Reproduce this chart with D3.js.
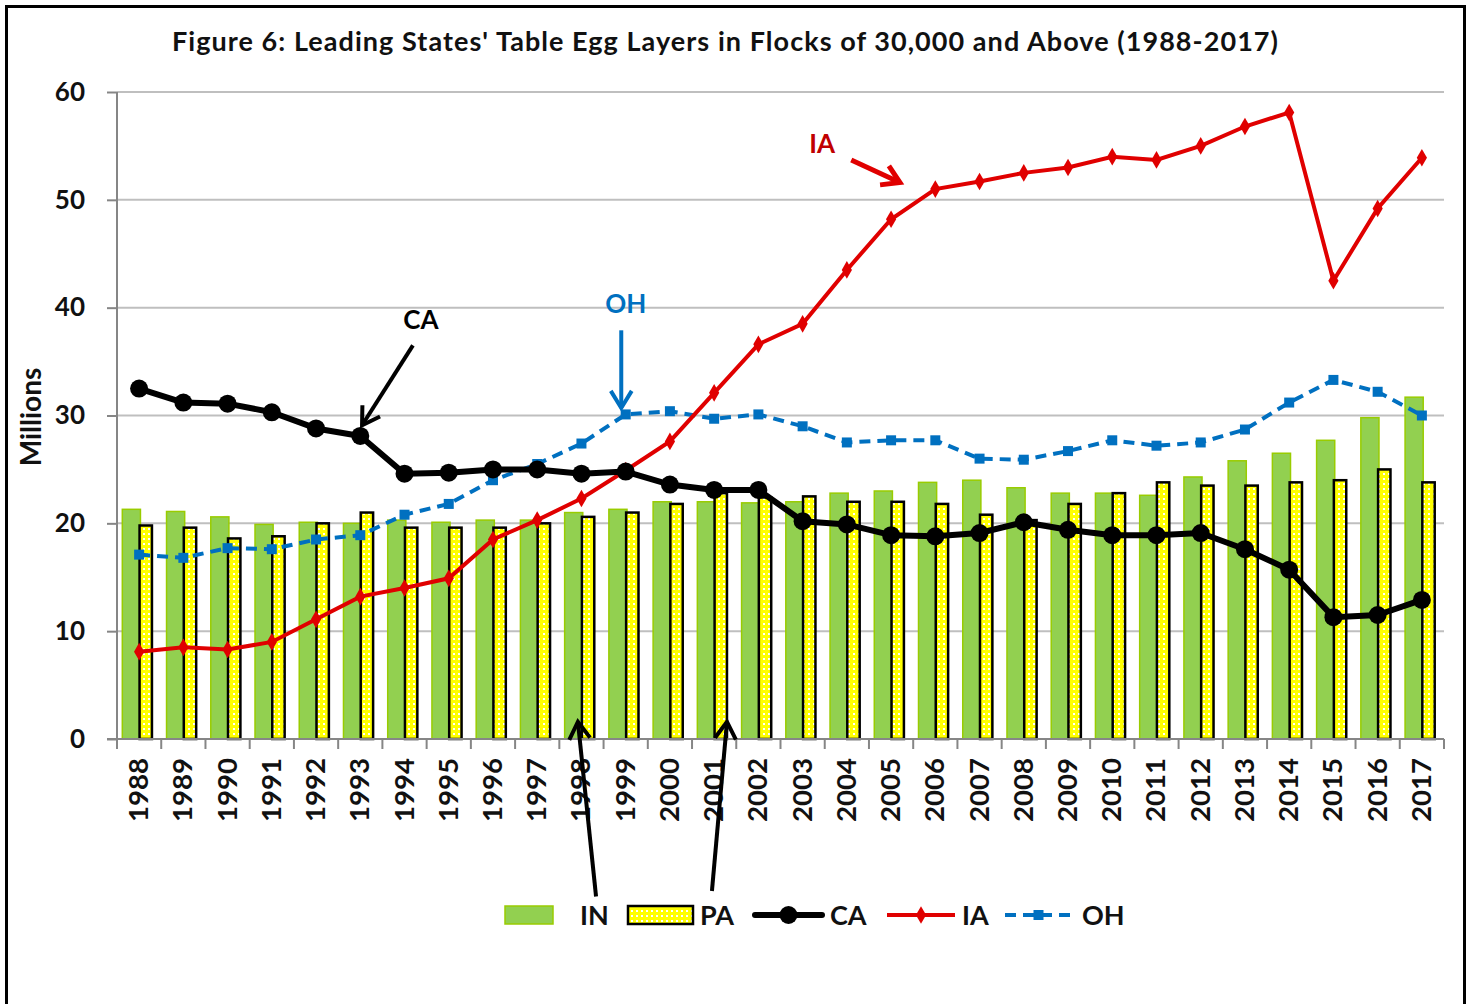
<!DOCTYPE html>
<html>
<head>
<meta charset="utf-8">
<script src="https://cdn.jsdelivr.net/npm/d3@7"></script>
<style>
  body { margin: 0; background: #fff; }
  svg text { font-family: Lato, "Open Sans", sans-serif; font-weight: bold; }
</style>
</head>
<body>
<div id="chart"></div>
<script>
var years = d3.range(1988, 2018);
var yTicks = [0, 10, 20, 30, 40, 50, 60];

var IN = [21.3, 21.1, 20.6, 19.9, 20.1, 20.0, 20.3, 20.1, 20.3, 20.3,
          21.0, 21.3, 22.0, 22.0, 21.9, 22.0, 22.8, 23.0, 23.8, 24.0,
          23.3, 22.8, 22.8, 22.6, 24.3, 25.8, 26.5, 27.7, 29.8, 31.7];
var PA = [19.8, 19.6, 18.6, 18.8, 20.0, 21.0, 19.6, 19.6, 19.6, 20.0,
          20.6, 21.0, 21.8, 22.8, 22.4, 22.5, 22.0, 22.0, 21.8, 20.8,
          20.3, 21.8, 22.8, 23.8, 23.5, 23.5, 23.8, 24.0, 25.0, 23.8];
var CA = [32.5, 31.2, 31.1, 30.3, 28.8, 28.1, 24.6, 24.7, 25.0, 25.0,
          24.6, 24.8, 23.6, 23.1, 23.1, 20.2, 19.9, 18.9, 18.8, 19.1,
          20.1, 19.4, 18.9, 18.9, 19.1, 17.6, 15.7, 11.3, 11.5, 12.9];
var IA = [8.1, 8.5, 8.3, 9.0, 11.1, 13.2, 14.0, 14.9, 18.5, 20.3,
          22.3, 24.9, 27.6, 32.1, 36.6, 38.5, 43.5, 48.2, 51.0, 51.7,
          52.5, 53.0, 54.0, 53.7, 55.0, 56.8, 58.1, 42.5, 49.2, 53.9];
var OH = [17.1, 16.8, 17.7, 17.6, 18.5, 18.9, 20.8, 21.8, 24.0, 25.5,
          27.4, 30.1, 30.4, 29.7, 30.1, 29.0, 27.5, 27.7, 27.7, 26.0,
          25.9, 26.7, 27.7, 27.2, 27.5, 28.7, 31.2, 33.3, 32.2, 30.0];

// annotations in data units: year index (fractional) and value
var notes = [
  { label: "CA", color: "#000", tx: 6.37, tv: 38.0, from: [6.19, 36.5], to: [5.04, 29.1], w: 4 },
  { label: "OH", color: "#0070c0", tx: 11.0, tv: 39.5, from: [10.9, 37.9], to: [10.9, 30.7], w: 4 },
  { label: "IA", color: "#e00000", tx: 15.44, tv: 54.3, from: [16.1, 53.7], to: [17.2, 51.6], w: 5 },
  { label: "", color: "#000", from: [10.33, -14.6], to: [9.92, 1.6], w: 4 },
  { label: "", color: "#000", from: [12.95, -14.1], to: [13.29, 1.6], w: 4 }
];

var W = 1473, H = 1004;
var margin = { top: 92, right: 29, bottom: 265, left: 117 };
var width = W - margin.left - margin.right,
    height = H - margin.top - margin.bottom;

var svg = d3.select("#chart").append("svg")
    .attr("width", W).attr("height", H);

var defs = svg.append("defs");
var pat = defs.append("pattern")
    .attr("id", "dots").attr("patternUnits", "userSpaceOnUse")
    .attr("width", 5).attr("height", 5);
pat.append("rect").attr("width", 5).attr("height", 5).attr("fill", "#ffff00");
pat.append("rect").attr("x", 1).attr("y", 1).attr("width", 2).attr("height", 2).attr("fill", "#ffffff");

// frame
svg.append("path")
    .attr("d", "M6.5," + H + "V6.5H1464.5V" + H)
    .attr("fill", "none").attr("stroke", "#000").attr("stroke-width", 3);

svg.append("text")
    .attr("x", 725).attr("y", 51)
    .attr("text-anchor", "middle")
    .attr("font-size", 27)
    .attr("textLength", 1106).attr("lengthAdjust", "spacing")
    .attr("fill", "#111")
    .text("Figure 6:  Leading States' Table Egg Layers in Flocks of 30,000 and  Above (1988-2017)");

var g = svg.append("g").attr("transform", "translate(" + margin.left + "," + margin.top + ")");

var x = d3.scaleBand().domain(years).range([0, width]);
var xi = d3.scaleLinear().domain([0, years.length]).range([0, width]);
var y = d3.scaleLinear().domain([0, 60]).range([height, 0]);

function xc(i) { return xi(i + 0.5); }

// grid
g.selectAll("line.grid").data(yTicks.slice(1)).enter().append("line")
    .attr("class", "grid")
    .attr("x1", 0).attr("x2", width)
    .attr("y1", function (d) { return y(d); }).attr("y2", function (d) { return y(d); })
    .attr("stroke", "#bfbfbf").attr("stroke-width", 2);

// bars
var bw = x.bandwidth();
g.selectAll("rect.in").data(IN).enter().append("rect")
    .attr("class", "in")
    .attr("x", function (d, i) { return x(years[i]) + bw * 0.12; })
    .attr("width", bw * 0.41)
    .attr("y", function (d) { return y(d); })
    .attr("height", function (d) { return y(0) - y(d); })
    .attr("fill", "#92d050").attr("stroke", "#99cc00").attr("stroke-width", 1.5);

g.selectAll("rect.pa").data(PA).enter().append("rect")
    .attr("class", "pa")
    .attr("x", function (d, i) { return x(years[i]) + bw * 0.51; })
    .attr("width", bw * 0.28)
    .attr("y", function (d) { return y(d); })
    .attr("height", function (d) { return y(0) - y(d); })
    .attr("fill", "url(#dots)").attr("stroke", "#000").attr("stroke-width", 2.5);

// axes
var yAxis = g.append("g")
    .call(d3.axisLeft(y).tickValues(yTicks).tickSize(10).tickPadding(22));
yAxis.select(".domain").attr("stroke", "#868686").attr("stroke-width", 2).attr("d", "M0," + height + "V0");
yAxis.selectAll(".tick line").attr("stroke", "#868686").attr("stroke-width", 2);
yAxis.selectAll(".tick text").attr("font-size", 26).attr("fill", "#111")
    .attr("font-family", "Lato, sans-serif").attr("font-weight", "bold");

var xAxis = g.append("g").attr("transform", "translate(0," + height + ")");
xAxis.append("line").attr("x1", -10).attr("x2", width)
    .attr("stroke", "#868686").attr("stroke-width", 2);
xAxis.selectAll("line.tk").data(d3.range(years.length + 1)).enter().append("line")
    .attr("class", "tk")
    .attr("x1", function (d) { return xi(d); }).attr("x2", function (d) { return xi(d); })
    .attr("y1", 0).attr("y2", 10)
    .attr("stroke", "#868686").attr("stroke-width", 2);
xAxis.selectAll("text").data(years).enter().append("text")
    .attr("transform", function (d, i) { return "translate(" + (xc(i) + 9) + ",19) rotate(-90)"; })
    .attr("text-anchor", "end")
    .attr("font-family", "'Liberation Sans', Arial, sans-serif")
    .attr("font-size", 26)
    .attr("textLength", 64).attr("lengthAdjust", "spacingAndGlyphs")
    .attr("fill", "#111")
    .text(function (d) { return d; });

svg.append("text")
    .attr("transform", "translate(41,417) rotate(-90)")
    .attr("text-anchor", "middle")
    .attr("font-size", 28).attr("fill", "#111")
    .text("Millions");

// lines
var line = d3.line().x(function (d, i) { return xc(i); }).y(function (d) { return y(d); });

g.append("path").datum(OH).attr("d", line)
    .attr("fill", "none").attr("stroke", "#0070c0").attr("stroke-width", 4)
    .attr("stroke-dasharray", "11,7");
g.selectAll("rect.oh").data(OH).enter().append("rect")
    .attr("class", "oh")
    .attr("x", function (d, i) { return xc(i) - 5; }).attr("y", function (d) { return y(d) - 5; })
    .attr("width", 10).attr("height", 10).attr("fill", "#0070c0");

g.append("path").datum(IA).attr("d", line)
    .attr("fill", "none").attr("stroke", "#e00000").attr("stroke-width", 4);
g.selectAll("path.ia").data(IA).enter().append("path")
    .attr("class", "ia")
    .attr("transform", function (d, i) { return "translate(" + xc(i) + "," + y(d) + ")"; })
    .attr("d", d3.symbol().type(d3.symbolDiamond).size(90))
    .attr("fill", "#e00000");

g.append("path").datum(CA).attr("d", line)
    .attr("fill", "none").attr("stroke", "#000").attr("stroke-width", 6)
    .attr("stroke-linejoin", "round");
g.selectAll("circle.ca").data(CA).enter().append("circle")
    .attr("class", "ca")
    .attr("cx", function (d, i) { return xc(i); }).attr("cy", function (d) { return y(d); })
    .attr("r", 9).attr("fill", "#000");

// annotations
function ax(t) { return xi(t + 0.5); }
notes.forEach(function (n) {
  var x1 = ax(n.from[0]), y1 = y(n.from[1]), x2 = ax(n.to[0]), y2 = y(n.to[1]);
  var ang = Math.atan2(y2 - y1, x2 - x1), len = 20, spread = 0.55;
  g.append("line").attr("x1", x1).attr("y1", y1).attr("x2", x2).attr("y2", y2)
      .attr("stroke", n.color).attr("stroke-width", n.w);
  var pts = [
    [x2 - len * Math.cos(ang - spread), y2 - len * Math.sin(ang - spread)],
    [x2, y2],
    [x2 - len * Math.cos(ang + spread), y2 - len * Math.sin(ang + spread)]
  ];
  g.append("path").attr("d", d3.line()(pts))
      .attr("fill", "none").attr("stroke", n.color).attr("stroke-width", n.w)
      .attr("stroke-linejoin", "miter");
  if (n.label) {
    g.append("text").attr("x", ax(n.tx)).attr("y", y(n.tv))
        .attr("text-anchor", "middle").attr("font-size", 26)
        .attr("fill", n.color === "#e00000" ? "#c00000" : n.color)
        .text(n.label);
  }
});

// legend
var legend = svg.append("g").attr("transform", "translate(0,914)");
var items = [
  { key: "IN", type: "bar", x: 505, w: 48, tx: 580 },
  { key: "PA", type: "pat", x: 628, w: 65, tx: 700 },
  { key: "CA", type: "ca", x: 755, w: 67, tx: 830 },
  { key: "IA", type: "ia", x: 887, w: 68, tx: 962 },
  { key: "OH", type: "oh", x: 1005, w: 67, tx: 1082 }
];
items.forEach(function (it) {
  var cx = it.x + it.w / 2;
  if (it.type === "bar") {
    legend.append("rect").attr("x", it.x).attr("y", -8).attr("width", it.w).attr("height", 18)
        .attr("fill", "#92d050").attr("stroke", "#99cc00").attr("stroke-width", 1.5);
  } else if (it.type === "pat") {
    legend.append("rect").attr("x", it.x).attr("y", -8).attr("width", it.w).attr("height", 18)
        .attr("fill", "url(#dots)").attr("stroke", "#000").attr("stroke-width", 2.5);
  } else if (it.type === "ca") {
    legend.append("line").attr("x1", it.x).attr("x2", it.x + it.w).attr("y1", 1).attr("y2", 1)
        .attr("stroke", "#000").attr("stroke-width", 6).attr("stroke-linecap", "round");
    legend.append("circle").attr("cx", cx).attr("cy", 1).attr("r", 9).attr("fill", "#000");
  } else if (it.type === "ia") {
    legend.append("line").attr("x1", it.x).attr("x2", it.x + it.w).attr("y1", 1).attr("y2", 1)
        .attr("stroke", "#e00000").attr("stroke-width", 4);
    legend.append("path").attr("transform", "translate(" + cx + ",1)")
        .attr("d", d3.symbol().type(d3.symbolDiamond).size(90)).attr("fill", "#e00000");
  } else {
    legend.append("line").attr("x1", it.x).attr("x2", it.x + it.w).attr("y1", 1).attr("y2", 1)
        .attr("stroke", "#0070c0").attr("stroke-width", 4).attr("stroke-dasharray", "11,7");
    legend.append("rect").attr("x", cx - 5).attr("y", -4).attr("width", 10).attr("height", 10)
        .attr("fill", "#0070c0");
  }
  legend.append("text").attr("x", it.tx).attr("y", 11).attr("font-size", 27)
      .attr("fill", "#111").attr("text-anchor", "start").text(it.key);
});
</script>
</body>
</html>
